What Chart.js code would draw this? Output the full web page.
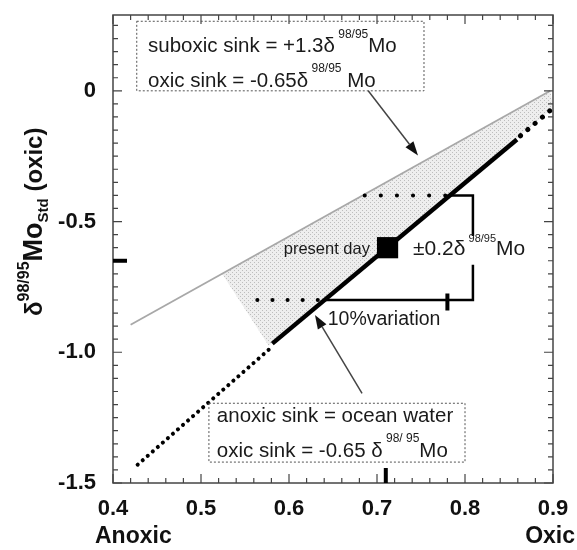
<!DOCTYPE html>
<html lang="en">
<head>
<meta charset="UTF-8">
<title>Mo isotope mass balance</title>
<script src="https://cdn.jsdelivr.net/npm/chart.js@4/dist/chart.umd.min.js"></script>
<style>
  html, body { margin: 0; padding: 0; background: #fff; }
  #wrap { width: 577px; height: 550px; }
</style>
</head>
<body>
<div id="wrap"><canvas id="moChart" width="577" height="550"></canvas></div>
<script>
// axis ranges and tick labels
const xRange = [0.4, 0.9];
const yRange = [-1.5, 0.29];
const xTicks = [0.4, 0.5, 0.6, 0.7, 0.8, 0.9];
const yTicks = [-1.5, -1, -0.5, 0];

// suboxic sink boundary (thin grey line)
const suboxicX = [0.42, 0.897];
const suboxicY = [-0.895, 0.0];

// oxic sink line: solid part and dotted extensions
const oxicSolidX = [0.581, 0.859];
const oxicSolidY = [-0.967, -0.186];
const oxicLowX = [0.428, 0.577];
const oxicLowY = [-1.43, -0.99];
const oxicHighX = [0.863, 0.9];
const oxicHighY = [-0.172, -0.066];

// shaded field between the two sinks
const fieldX = [0.524, 0.897, 0.9, 0.577, 0.524];
const fieldY = [-0.70, 0.0, -0.066, -0.975, -0.70];

// present day
const presentX = [0.712];
const presentY = [-0.60];

// +-0.2 permil bracket
const upperDotX = [0.686, 0.78];
const upperDotY = [-0.40, -0.40];
const lowerDotX = [0.564, 0.64];
const lowerDotY = [-0.80, -0.80];
const bracketTopX = [0.78, 0.809, 0.809];
const bracketTopY = [-0.40, -0.40, -0.555];
const bracketBotX = [0.809, 0.809, 0.64];
const bracketBotY = [-0.665, -0.80, -0.80];
const bracketTickX = [0.78, 0.78];
const bracketTickY = [-0.775, -0.84];

// bold reference ticks on the axes
const refTickX = [0.71];
const refTickY = [-0.65];

function pts(xs, ys) {
    return xs.map((x, i) => ({ x: x, y: ys[i] }));
}

// stipple pattern for the shaded field
function stipple() {
    const c = document.createElement('canvas');
    c.width = 4; c.height = 4;
    const g = c.getContext('2d');
    g.fillStyle = '#eeeeee';
    g.fillRect(0, 0, 4, 4);
    g.fillStyle = '#bdbdbd';
    g.fillRect(0, 0, 1, 1);
    g.fillRect(2, 2, 1, 1);
    return g.createPattern(c, 'repeat');
}

// draw a run of text pieces (for super/subscripts)
function richText(ctx, x, y, parts, align) {
    let w = 0;
    parts.forEach(p => { ctx.font = p[1]; w += ctx.measureText(p[0]).width; });
    let cx = align === 'right' ? x - w : x;
    parts.forEach(p => {
        ctx.font = p[1];
        ctx.fillText(p[0], cx, y + (p[2] || 0));
        cx += ctx.measureText(p[0]).width;
    });
}

function arrow(ctx, x1, y1, x2, y2) {
    const a = Math.atan2(y2 - y1, x2 - x1);
    const L = 14, W = 5;
    ctx.beginPath();
    ctx.moveTo(x1, y1);
    ctx.lineTo(x2 - L * Math.cos(a), y2 - L * Math.sin(a));
    ctx.stroke();
    ctx.beginPath();
    ctx.moveTo(x2, y2);
    ctx.lineTo(x2 - L * Math.cos(a) + W * Math.sin(a), y2 - L * Math.sin(a) - W * Math.cos(a));
    ctx.lineTo(x2 - L * Math.cos(a) - W * Math.sin(a), y2 - L * Math.sin(a) + W * Math.cos(a));
    ctx.closePath();
    ctx.fill();
}

const reg = '"Liberation Sans", Arial, sans-serif';

// frame, inward ticks on all sides
const framePlugin = {
    id: 'frame',
    afterDatasetsDraw(chart) {
        const ctx = chart.ctx, a = chart.chartArea;
        const xs = chart.scales.x, ys = chart.scales.y;
        ctx.save();
        ctx.strokeStyle = '#444';
        ctx.lineWidth = 1.5;
        ctx.strokeRect(a.left, a.top, a.right - a.left, a.bottom - a.top);
        ctx.lineWidth = 1.2;
        for (let i = 0; i <= 25; i++) {
            const v = xRange[0] + i * 0.02;
            const px = xs.getPixelForValue(v);
            const len = i % 5 === 0 ? 9 : 5;
            ctx.beginPath();
            ctx.moveTo(px, a.bottom); ctx.lineTo(px, a.bottom - len);
            ctx.moveTo(px, a.top); ctx.lineTo(px, a.top + len);
            ctx.stroke();
        }
        for (let i = 0; i <= 35; i++) {
            const v = yRange[0] + i * 0.05;
            if (v > yRange[1]) break;
            const py = ys.getPixelForValue(v);
            const len = i % 10 === 0 ? 9 : 5;
            ctx.beginPath();
            ctx.moveTo(a.left, py); ctx.lineTo(a.left + len, py);
            ctx.moveTo(a.right, py); ctx.lineTo(a.right - len, py);
            ctx.stroke();
        }
        // bold reference ticks
        ctx.strokeStyle = '#000';
        ctx.lineWidth = 4;
        refTickX.forEach(v => {
            const px = xs.getPixelForValue(v);
            ctx.beginPath(); ctx.moveTo(px, a.bottom); ctx.lineTo(px, a.bottom - 15); ctx.stroke();
        });
        refTickY.forEach(v => {
            const py = ys.getPixelForValue(v);
            ctx.beginPath(); ctx.moveTo(a.left, py); ctx.lineTo(a.left + 14, py); ctx.stroke();
        });
        ctx.restore();
    },
    afterDraw(chart) {
        const ctx = chart.ctx;
        const X = v => chart.scales.x.getPixelForValue(v);
        const Y = v => chart.scales.y.getPixelForValue(v);
        ctx.save();
        ctx.fillStyle = '#1a1a1a';
        ctx.textBaseline = 'middle';

        // boxes
        ctx.strokeStyle = '#555';
        ctx.lineWidth = 1;
        ctx.setLineDash([2, 2]);
        ctx.strokeRect(X(0.427), Y(0.266), X(0.7534) - X(0.427), Y(0.0) - Y(0.266));
        ctx.strokeRect(X(0.509), Y(-1.195), X(0.80) - X(0.509), Y(-1.42) - Y(-1.195));
        ctx.setLineDash([]);

        richText(ctx, X(0.4398), Y(0.171), [
            ['suboxic sink = +1.3\u03b4', '20.5px ' + reg, 0],
            [' 98/95', '12px ' + reg, -11],
            ['Mo', '20.5px ' + reg, 0]
        ]);
        richText(ctx, X(0.4398), Y(0.038), [
            ['oxic sink = -0.65\u03b4', '20.5px ' + reg, 0],
            [' 98/95', '12px ' + reg, -12],
            [' Mo', '20.5px ' + reg, 0]
        ]);
        richText(ctx, X(0.518), Y(-1.245), [['anoxic sink = ocean water', '20.5px ' + reg, 0]]);
        richText(ctx, X(0.518), Y(-1.378), [
            ['oxic sink = -0.65 \u03b4', '20.5px ' + reg, 0],
            [' 98/ 95', '12px ' + reg, -12],
            ['Mo', '20.5px ' + reg, 0]
        ]);

        richText(ctx, X(0.692), Y(-0.605), [['present day', '16.5px ' + reg, 0]], 'right');
        richText(ctx, X(0.741), Y(-0.605), [
            ['\u00b10.2\u03b4', '21px ' + reg, 0],
            [' 98/95', '11px ' + reg, -10],
            ['Mo', '21px ' + reg, 0]
        ]);
        richText(ctx, X(0.644), Y(-0.876), [['10%variation', '19.5px ' + reg, 0]]);

        // arrows
        ctx.strokeStyle = '#444';
        ctx.fillStyle = '#111';
        ctx.lineWidth = 1.5;
        arrow(ctx, X(0.69), Y(0.0), X(0.7466), Y(-0.247));
        arrow(ctx, X(0.683), Y(-1.157), X(0.6295), Y(-0.857));

        // axis end labels
        ctx.fillStyle = '#111';
        ctx.font = 'bold 23px ' + reg;
        ctx.textAlign = 'left';
        ctx.fillText('Anoxic', 95, 537);
        ctx.textAlign = 'right';
        ctx.fillText('Oxic', 575, 537);

        // y title, rotated
        ctx.textAlign = 'left';
        ctx.textBaseline = 'alphabetic';
        ctx.translate(42, 316);
        ctx.rotate(-Math.PI / 2);
        richText(ctx, 0, 0, [
            ['\u03b4', 'bold 24px ' + reg, 0],
            ['98/95', 'bold 16px ' + reg, -13],
            ['Mo', 'bold 27px ' + reg, 0],
            ['Std', 'bold 15px ' + reg, 6],
            [' (oxic)', 'bold 24px ' + reg, 0]
        ]);
        ctx.restore();
    }
};

const ctx = document.getElementById('moChart').getContext('2d');
const field = stipple();

new Chart(ctx, {
    type: 'scatter',
    data: {
        datasets: [
            {
                data: pts(fieldX, fieldY), showLine: true, fill: 'shape',
                backgroundColor: field, borderWidth: 0, pointRadius: 0, order: 10
            },
            {
                data: pts(suboxicX, suboxicY), showLine: true,
                borderColor: '#a8a8a8', borderWidth: 1.8, pointRadius: 0, order: 5
            },
            {
                data: pts(oxicSolidX, oxicSolidY), showLine: true,
                borderColor: '#000', borderWidth: 4.5, pointRadius: 0
            },
            {
                data: pts(oxicLowX, oxicLowY), showLine: true,
                borderColor: '#000', borderWidth: 4, borderDash: [0.1, 6.6],
                borderCapStyle: 'round', pointRadius: 0
            },
            {
                data: pts(oxicHighX, oxicHighY), showLine: true,
                borderColor: '#000', borderWidth: 5, borderDash: [0.1, 9.5],
                borderCapStyle: 'round', pointRadius: 0
            },
            {
                data: pts(upperDotX, upperDotY), showLine: true,
                borderColor: '#000', borderWidth: 4, borderDash: [0.1, 16],
                borderCapStyle: 'round', pointRadius: 0
            },
            {
                data: pts(lowerDotX, lowerDotY), showLine: true,
                borderColor: '#000', borderWidth: 4, borderDash: [0.1, 15],
                borderCapStyle: 'round', pointRadius: 0
            },
            {
                data: pts(bracketTopX, bracketTopY), showLine: true,
                borderColor: '#000', borderWidth: 2.5, pointRadius: 0
            },
            {
                data: pts(bracketBotX, bracketBotY), showLine: true,
                borderColor: '#000', borderWidth: 2.5, pointRadius: 0
            },
            {
                data: pts(bracketTickX, bracketTickY), showLine: true,
                borderColor: '#000', borderWidth: 4, pointRadius: 0
            },
            {
                data: pts(presentX, presentY), pointStyle: 'rect', pointRadius: 15,
                backgroundColor: '#000', borderColor: '#000', borderWidth: 0
            }
        ]
    },
    options: {
        responsive: false,
        animation: false,
        layout: { padding: { top: 12, right: 24, bottom: 0, left: 0 } },
        plugins: {
            legend: { display: false },
            tooltip: { enabled: false }
        },
        scales: {
            x: {
                type: 'linear', min: xRange[0], max: xRange[1],
                grid: { display: false, drawTicks: false },
                border: { display: false },
                afterBuildTicks: s => { s.ticks = xTicks.map(v => ({ value: v })); },
                afterFit: s => { s.height = 67; s.paddingLeft = 0; s.paddingRight = 0; },
                ticks: {
                    padding: 13, color: '#111', maxRotation: 0,
                    font: { family: reg, size: 22, weight: 'bold' }
                }
            },
            y: {
                type: 'linear', min: yRange[0], max: yRange[1],
                grid: { display: false, drawTicks: false },
                border: { display: false },
                afterBuildTicks: s => { s.ticks = yTicks.map(v => ({ value: v })); },
                afterFit: s => { s.width = 113; s.paddingTop = 0; s.paddingBottom = 0; },
                ticks: {
                    padding: 17, color: '#111',
                    font: { family: reg, size: 22, weight: 'bold' }
                }
            }
        }
    },
    plugins: [framePlugin]
});
</script>
</body>
</html>
